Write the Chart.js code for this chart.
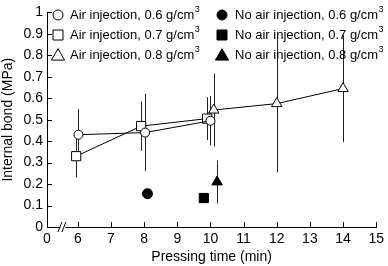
<!DOCTYPE html>
<html><head><meta charset="utf-8">
<script src="https://cdn.jsdelivr.net/npm/chart.js@4/dist/chart.umd.min.js"></script>
<style>html,body{margin:0;padding:0;background:#fff}#wrap{width:388px;height:266px}</style>
</head><body><div id="wrap"><canvas id="c" width="388" height="266"></canvas></div>
<script>
// ---- data ----
const airX06 = [6.02, 8.03, 10.0];
const airY06 = [0.43, 0.44, 0.495];
const airErr06 = [0.12, 0.18, 0.115];
const airX07 = [5.95, 7.91, 9.9];
const airY07 = [0.33, 0.47, 0.505];
const airErr07 = [0.10, 0.115, 0.10];
const airX08 = [10.1, 12.0, 14.0];
const airY08 = [0.545, 0.575, 0.645];
const airErr08 = [0.17, 0.32, 0.25];
const noAirX = [8.1, 9.8, 10.2];
const noAirY = [0.155, 0.135, 0.21];
const noAirErr = [0, 0.012, 0.1];
const xTickValues = [6, 7, 8, 9, 10, 11, 12, 13, 14, 15];
const xTickLabels = ['6', '7', '8', '9', '10', '11', '12', '13', '14', '15'];
const xOriginLabel = '0';
const yTickValues = [0, 0.1, 0.2, 0.3, 0.4, 0.5, 0.6, 0.7, 0.8, 0.9, 1];
const legendLabels = ['Air injection, 0.6 g/cm', 'Air injection, 0.7 g/cm', 'Air injection, 0.8 g/cm',
  'No air injection, 0.6 g/cm', 'No air injection, 0.7 g/cm', 'No air injection, 0.8 g/cm'];

const FONT = "'Liberation Sans', Arial, Helvetica, sans-serif";
const X_MIN = 5.07;

function pts(xs, ys) { return xs.map((x, i) => ({x: x, y: ys[i]})); }

const datasets = [
  {data: pts(airX06, airY06), err: airErr06, pointStyle: 'circle', pointRadius: 4.5, fill: false},
  {data: pts(airX07, airY07), err: airErr07, pointStyle: 'rect', pointRadius: 6.5, fill: false},
  {data: pts(airX08, airY08), err: airErr08, pointStyle: 'triangle', pointRadius: 6, fill: false},
  {data: [{x: noAirX[0], y: noAirY[0]}], err: [noAirErr[0]], pointStyle: 'circle', pointRadius: 5, fill: true},
  {data: [{x: noAirX[1], y: noAirY[1]}], err: [noAirErr[1]], pointStyle: 'rect', pointRadius: 6.5, fill: true},
  {data: [{x: noAirX[2], y: noAirY[2]}], err: [noAirErr[2]], pointStyle: 'triangle', pointRadius: 6, fill: true}
].map((d, i) => ({
  data: d.data, err: d.err,
  showLine: i < 3, borderColor: '#000', borderWidth: 1,
  backgroundColor: d.fill ? '#000' : '#fff',
  pointBackgroundColor: d.fill ? '#000' : '#fff',
  pointBorderColor: '#000', pointBorderWidth: 1,
  pointStyle: d.pointStyle, pointRadius: d.pointRadius, pointHoverRadius: d.pointRadius,
  fill: false, tension: 0
}));

function marker(ctx, style, x, y, r, filled) {
  ctx.save();
  ctx.beginPath();
  if (style === 'circle') ctx.arc(x, y, r, 0, Math.PI * 2);
  else if (style === 'rect') { const s = r; ctx.rect(x - s, y - s, 2 * s, 2 * s); }
  else { ctx.moveTo(x, y - r * 1.05); ctx.lineTo(x + r * 1.1, y + r * 0.85); ctx.lineTo(x - r * 1.1, y + r * 0.85); ctx.closePath(); }
  ctx.fillStyle = filled ? '#000' : '#fff';
  ctx.fill();
  ctx.lineWidth = 1; ctx.strokeStyle = '#000'; ctx.stroke();
  ctx.restore();
}

const custom = {
  id: 'custom',
  beforeDatasetsDraw(chart) {
    const ctx = chart.ctx, xs = chart.scales.x, ys = chart.scales.y;
    ctx.save();
    ctx.strokeStyle = '#222'; ctx.lineWidth = 1;
    chart.data.datasets.forEach(ds => {
      ds.data.forEach((p, i) => {
        const e = ds.err[i]; if (!e) { if (e === 0) return; }
        const px = Math.round(xs.getPixelForValue(p.x)) + 0.5;
        ctx.beginPath();
        ctx.moveTo(px, ys.getPixelForValue(p.y + e));
        ctx.lineTo(px, ys.getPixelForValue(p.y - e));
        ctx.stroke();
      });
    });
    ctx.restore();
  },
  afterDraw(chart) {
    const ctx = chart.ctx, xs = chart.scales.x, ys = chart.scales.y, a = chart.chartArea;
    ctx.save();
    ctx.strokeStyle = '#000'; ctx.lineWidth = 1;
    // inward ticks
    yTickValues.forEach(v => {
      const py = Math.round(ys.getPixelForValue(v)) + 0.5;
      ctx.beginPath(); ctx.moveTo(a.left, py); ctx.lineTo(a.left + 5, py); ctx.stroke();
    });
    xTickValues.forEach(v => {
      const px = Math.round(xs.getPixelForValue(v)) + 0.5;
      ctx.beginPath(); ctx.moveTo(px, a.bottom); ctx.lineTo(px, a.bottom - 5); ctx.stroke();
    });
    // axis break
    const bx = xs.getPixelForValue(5.55), by = a.bottom;
    ctx.fillStyle = '#fff';
    ctx.fillRect(bx - 2.5, by - 2, 5, 4);
    ctx.beginPath();
    ctx.moveTo(bx - 5, by + 5); ctx.lineTo(bx - 1, by - 5);
    ctx.moveTo(bx - 1, by + 5); ctx.lineTo(bx + 3, by - 5);
    ctx.stroke();
    // legend
    const cols = [{mx: 58, tx: 70}, {mx: 222, tx: 235}];
    const rows = [15, 35, 55];
    const styles = ['circle', 'rect', 'triangle'];
    const radii = [5, 5, 6];
    ctx.textBaseline = 'middle'; ctx.textAlign = 'left'; ctx.fillStyle = '#000';
    for (let c = 0; c < 2; c++) for (let r = 0; r < 3; r++) {
      marker(ctx, styles[r], cols[c].mx, rows[r], radii[r], c === 1);
      ctx.fillStyle = '#000';
      ctx.font = '13px ' + FONT;
      const t = legendLabels[c * 3 + r];
      ctx.fillText(t, cols[c].tx, rows[r]);
      const w = ctx.measureText(t).width;
      ctx.font = '9px ' + FONT;
      ctx.fillText('3', cols[c].tx + w + 0.5, rows[r] - 5);
    }
    ctx.restore();
  }
};

new Chart(document.getElementById('c'), {
  type: 'scatter',
  data: {datasets: datasets},
  options: {
    responsive: false, animation: false, devicePixelRatio: 1,
    layout: {padding: {top: 7, right: 10, left: 0, bottom: 0}},
    plugins: {legend: {display: false}, tooltip: {enabled: false}},
    scales: {
      x: {
        type: 'linear', min: X_MIN, max: 15,
        afterBuildTicks(s) { s.ticks = [{value: X_MIN}].concat(xTickValues.map(v => ({value: v}))); },
        ticks: {
          autoSkip: false, maxRotation: 0, padding: 4, color: '#000',
          font: {family: FONT, size: 14},
          callback(v) { if (v === X_MIN) return xOriginLabel; const i = xTickValues.indexOf(v); return i >= 0 ? xTickLabels[i] : ''; }
        },
        grid: {display: false, drawTicks: false},
        border: {display: true, color: '#000', width: 1},
        title: {display: true, text: 'Pressing time (min)', color: '#000', font: {family: FONT, size: 14}, padding: {top: 2, bottom: 0}},
        afterFit(s) { s.height = 39; }
      },
      y: {
        type: 'linear', min: 0, max: 1,
        afterBuildTicks(s) { s.ticks = yTickValues.map(v => ({value: v})); },
        ticks: {
          padding: 4, color: '#000', font: {family: FONT, size: 14},
          callback(v) { return String(v); }
        },
        grid: {display: false, drawTicks: false},
        border: {display: true, color: '#000', width: 1},
        title: {display: true, text: 'Internal bond (MPa)', color: '#000', font: {family: FONT, size: 14}, padding: {top: 0, bottom: 0}},
        afterFit(s) { s.width = 47; }
      }
    }
  },
  plugins: [custom]
});
</script></body></html>
